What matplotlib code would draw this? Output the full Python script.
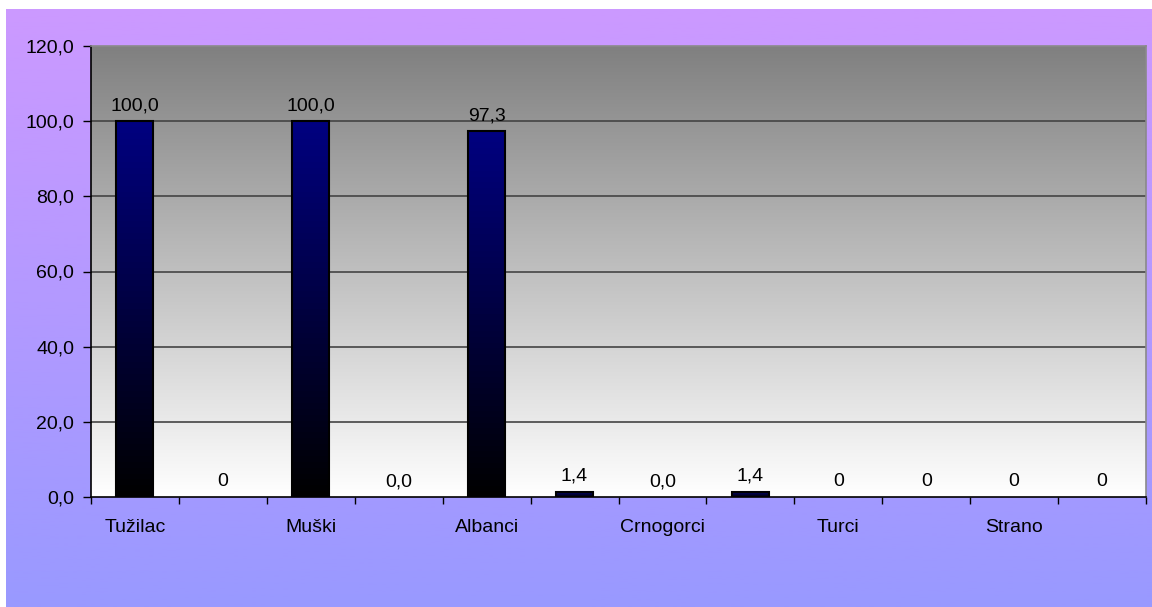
import numpy as np
import matplotlib.pyplot as plt
from matplotlib.colors import LinearSegmentedColormap

plt.rcParams['font.family'] = ['Liberation Sans', 'DejaVu Sans']

categories = ['Tužilac', '', 'Muški', '', 'Albanci', '', 'Crnogorci', '', 'Turci', '', 'Strano', '']
values = [100.0, 0, 100.0, 0.0, 97.3, 1.4, 0.0, 1.4, 0, 0, 0, 0]
value_labels = ['100,0', '0', '100,0', '0,0', '97,3', '1,4', '0,0', '1,4', '0', '0', '0', '0']
y_ticks = [0, 20, 40, 60, 80, 100, 120]

W, H = 1152, 607
fig = plt.figure(figsize=(W / 100, H / 100), dpi=100)
fig.patch.set_facecolor('white')

# purple background of the chart area
bg = fig.add_axes([6 / W, 0, 1 - 6 / W, 1 - 9 / H])
bg_cmap = LinearSegmentedColormap.from_list('bg', ['#9999ff', '#cc99ff'])
bg.imshow(np.linspace(0, 1, 256).reshape(-1, 1), cmap=bg_cmap, aspect='auto',
          origin='lower', extent=[0, 1, 0, 1])
bg.set_axis_off()

ax = fig.add_axes([91 / W, (H - 497) / H, 1055 / W, 451 / H])
ax.set_zorder(2)
x = np.arange(len(categories))
ax.set_xlim(-0.5, len(categories) - 0.5)
ax.set_ylim(0, 120)

# gray-to-white plot area
plot_cmap = LinearSegmentedColormap.from_list('plot', ['#ffffff', '#808080'])
ax.imshow(np.linspace(0, 1, 256).reshape(-1, 1), cmap=plot_cmap, aspect='auto',
          origin='lower', extent=[-0.5, len(categories) - 0.5, 0, 120], zorder=0)

for yv in y_ticks[1:-1]:
    ax.axhline(yv, color='#444444', lw=1.2, zorder=1)

bar_cmap = LinearSegmentedColormap.from_list('bar', ['#000000', '#000080'])
bars = ax.bar(x, values, width=0.42, facecolor='none', edgecolor='black', lw=1.5, zorder=3)
for b in bars:
    h = b.get_height()
    if h <= 0:
        b.set_linewidth(0)
        continue
    im = ax.imshow(np.linspace(0, 1, 64).reshape(-1, 1), cmap=bar_cmap, aspect='auto',
                   origin='lower', zorder=2,
                   extent=[b.get_x(), b.get_x() + b.get_width(), 0, h])
    im.set_clip_path(b)

for xi, v, lab in zip(x, values, value_labels):
    ax.annotate(lab, (xi, v), xytext=(0, 11), textcoords='offset points',
                ha='center', va='center', fontsize=14, color='black', zorder=4)

ax.set_yticks(y_ticks)
ax.set_yticklabels([f'{t:.1f}'.replace('.', ',') for t in y_ticks], fontsize=14)
ax.tick_params(axis='y', length=6, width=1, pad=6, direction='out')

ax.set_xticks(np.arange(len(categories) + 1) - 0.5)
ax.set_xticklabels([])
ax.tick_params(axis='x', which='major', length=5, width=1, direction='out')
ax.set_xticks(x, minor=True)
ax.set_xticklabels(categories, minor=True, fontsize=14)
ax.tick_params(axis='x', which='minor', length=0, pad=16)

for s in ['left', 'bottom']:
    ax.spines[s].set_color('black')
    ax.spines[s].set_linewidth(1.2)
for s in ['top', 'right']:
    ax.spines[s].set_color('#8a8a8a')
    ax.spines[s].set_linewidth(1.2)

fig.savefig('out.png', dpi=100)
